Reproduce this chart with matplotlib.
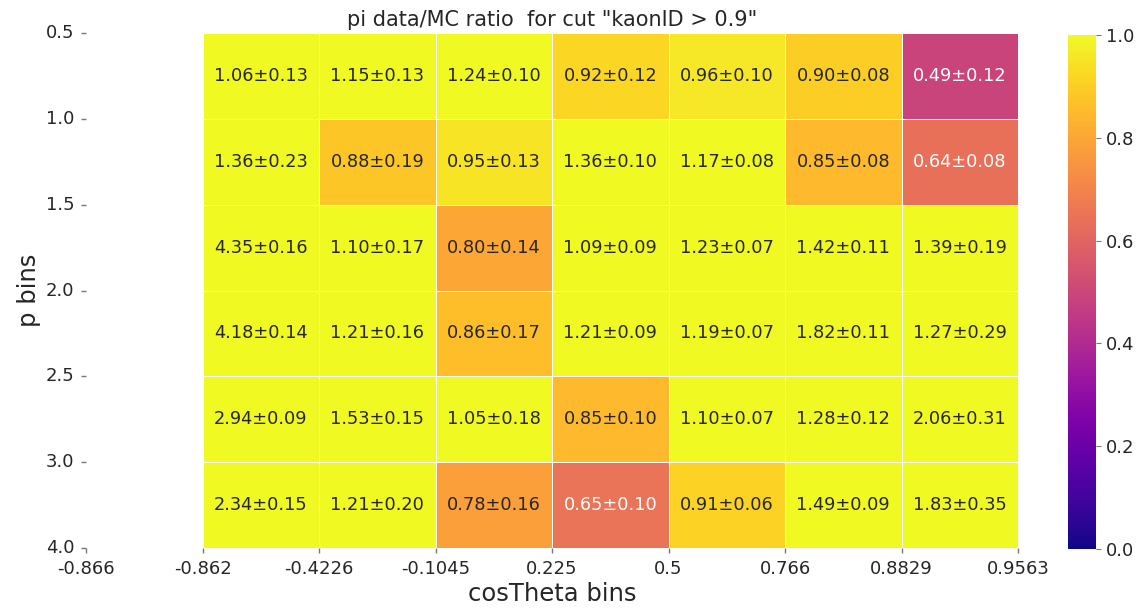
# pi data/MC ratio map in (p, cosTheta) bins
import matplotlib
matplotlib.use("Agg")
import matplotlib.pyplot as plt
import numpy as np
import seaborn as sns

cos_edges = ["-0.866", "-0.862", "-0.4226", "-0.1045", "0.225", "0.5", "0.766", "0.8829", "0.9563"]
p_edges = ["0.5", "1.0", "1.5", "2.0", "2.5", "3.0", "4.0"]

# ratio and error per p bin (rows) and cosTheta bin (columns, first bin has no entries)
ratio = [
    [1.06, 1.15, 1.24, 0.92, 0.96, 0.90, 0.49],
    [1.36, 0.88, 0.95, 1.36, 1.17, 0.85, 0.64],
    [4.35, 1.10, 0.80, 1.09, 1.23, 1.42, 1.39],
    [4.18, 1.21, 0.86, 1.21, 1.19, 1.82, 1.27],
    [2.94, 1.53, 1.05, 0.85, 1.10, 1.28, 2.06],
    [2.34, 1.21, 0.78, 0.65, 0.91, 1.49, 1.83],
]
ratio_err = [
    [0.13, 0.13, 0.10, 0.12, 0.10, 0.08, 0.12],
    [0.23, 0.19, 0.13, 0.10, 0.08, 0.08, 0.08],
    [0.16, 0.17, 0.14, 0.09, 0.07, 0.11, 0.19],
    [0.14, 0.16, 0.17, 0.09, 0.07, 0.11, 0.29],
    [0.09, 0.15, 0.18, 0.10, 0.07, 0.12, 0.31],
    [0.15, 0.20, 0.16, 0.10, 0.06, 0.09, 0.35],
]

vals = np.array(ratio)
errs = np.array(ratio_err)
n_rows = vals.shape[0]

# empty first cosTheta bin
data = np.hstack([np.full((n_rows, 1), np.nan), vals])
labels = np.full(data.shape, "", dtype=object)
for i in range(n_rows):
    for j in range(vals.shape[1]):
        labels[i, j + 1] = "%.2f\u00b1%.2f" % (vals[i, j], errs[i, j])

fig = plt.figure(figsize=(11.38, 6.10), dpi=100)
ax = fig.add_axes([0.0756, 0.1016, 0.8190, 0.8443])
cax = fig.add_axes([0.9385, 0.1000, 0.0245, 0.8426])

sns.heatmap(data, ax=ax, cbar_ax=cax, cmap="plasma", vmin=0, vmax=1,
            annot=labels, fmt="", annot_kws={"fontsize": 12.8},
            linewidths=0.6, linecolor="white", mask=np.isnan(data))

ax.set_xticks(np.arange(len(cos_edges)))
ax.set_xticklabels(cos_edges, rotation=0, fontsize=13, color="#262626")
ax.set_yticks(np.arange(len(p_edges)))
ax.set_yticklabels(p_edges, rotation=0, fontsize=13, color="#262626")
ax.tick_params(axis="both", length=3.5, width=1, color="#777777", pad=5)
ax.set_xlim(0, len(cos_edges) - 1)
ax.set_ylim(len(p_edges) - 1, 0)

ax.set_xlabel("cosTheta bins", fontsize=17.5, color="#262626", labelpad=3)
ax.set_ylabel("p bins", fontsize=17.5, color="#262626", labelpad=3)
ax.set_title('pi data/MC ratio  for cut "kaonID > 0.9"', fontsize=15, color="#262626", pad=5)

cax.tick_params(labelsize=13, length=3.5, color="#777777", labelcolor="#262626", pad=4)
cax.set_yticks([0.0, 0.2, 0.4, 0.6, 0.8, 1.0])

plt.savefig("out.png", dpi=100)
plt.close()
